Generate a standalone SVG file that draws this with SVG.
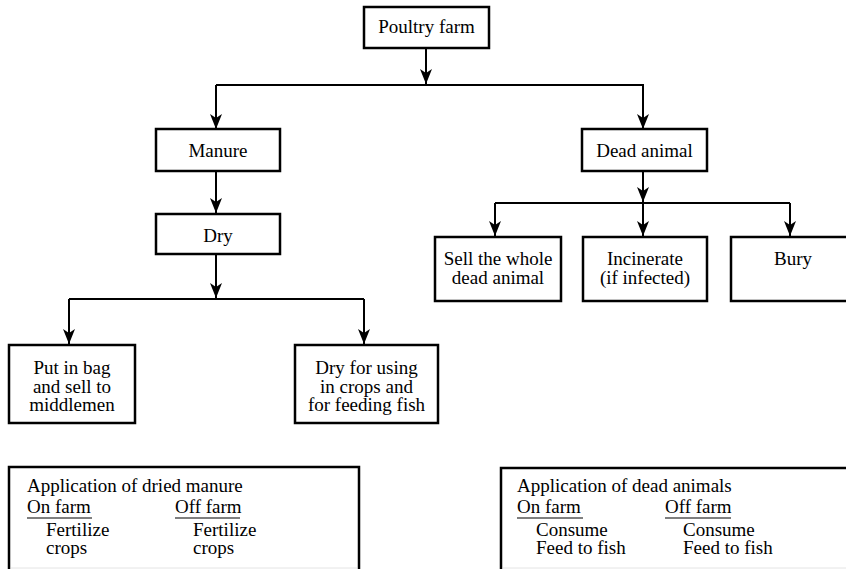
<svg xmlns="http://www.w3.org/2000/svg" width="846" height="569" viewBox="0 0 846 569">
<style>
.box{fill:#fff;stroke:#000;stroke-width:2.5}
text{font-family:'Liberation Serif',Tinos,'Times New Roman',Times,'DejaVu Serif','Noto Serif',serif;font-size:19px;fill:#000}
.c{text-anchor:middle}
.con{fill:none;stroke:#000;stroke-width:2}
.ul{stroke:#000;stroke-width:1.2}
.edge{stroke:#e4e4e4;stroke-width:1}
</style>
<defs>
<marker id="ah" markerUnits="userSpaceOnUse" markerWidth="20" markerHeight="16" viewBox="-16 -8 20 16" refX="0" refY="0" orient="auto">
<path d="M0,0 L-15,-6 L-11,0 L-15,6 z" fill="#000"/>
</marker>
</defs>
<g id="connectors">
<path class="con" d="M426,48 V84" marker-end="url(#ah)"/>
<path class="con" d="M216,85 H643 V129" marker-end="url(#ah)"/>
<path class="con" d="M216,85 V129" marker-end="url(#ah)"/>
<path class="con" d="M216,171 V213" marker-end="url(#ah)"/>
<path class="con" d="M216,254 V298" marker-end="url(#ah)"/>
<path class="con" d="M69,299 H364"/>
<path class="con" d="M69,299 V344" marker-end="url(#ah)"/>
<path class="con" d="M364,299 V344" marker-end="url(#ah)"/>
<path class="con" d="M643,171 V202" marker-end="url(#ah)"/>
<path class="con" d="M495,203 H790"/>
<path class="con" d="M495,203 V236" marker-end="url(#ah)"/>
<path class="con" d="M643,203 V236" marker-end="url(#ah)"/>
<path class="con" d="M790,203 V236" marker-end="url(#ah)"/>
</g>
<g id="poultry">
<rect class="box" x="364" y="7" width="125" height="41"/>
<text class="c" x="426.5" y="33">Poultry farm</text>
</g>
<g id="manure">
<rect class="box" x="156" y="129" width="124" height="42"/>
<text class="c" x="218" y="157">Manure</text>
</g>
<g id="dead">
<rect class="box" x="582" y="129" width="125" height="42"/>
<text class="c" x="644.5" y="157">Dead animal</text>
</g>
<g id="dry">
<rect class="box" x="156" y="214" width="124" height="40"/>
<text class="c" x="218" y="242">Dry</text>
</g>
<g id="bag">
<rect class="box" x="9" y="345" width="126" height="78"/>
<text class="c" x="72" y="374">Put in bag</text>
<text class="c" x="72" y="392.5">and sell to</text>
<text class="c" x="72" y="411">middlemen</text>
</g>
<g id="dryuse">
<rect class="box" x="295" y="345" width="143" height="78"/>
<text class="c" x="366.5" y="374">Dry for using</text>
<text class="c" x="366.5" y="392.5">in crops and</text>
<text class="c" x="366.5" y="411">for feeding fish</text>
</g>
<g id="sell">
<rect class="box" x="435" y="237" width="126" height="64"/>
<text class="c" x="498" y="265">Sell the whole</text>
<text class="c" x="498" y="284">dead animal</text>
</g>
<g id="incinerate">
<rect class="box" x="583" y="237" width="124" height="64"/>
<text class="c" x="645" y="265">Incinerate</text>
<text class="c" x="645" y="284">(if infected)</text>
</g>
<g id="bury">
<rect class="box" x="731" y="237" width="125" height="64"/>
<text class="c" x="793" y="265">Bury</text>
</g>
<g id="app-manure">
<rect class="box" x="9" y="467" width="350" height="110"/>
<line class="edge" x1="11" y1="568" x2="357" y2="568"/>
<text x="27" y="492">Application of dried manure</text>
<text x="27" y="513">On farm</text>
<line class="ul" x1="27" y1="518" x2="92" y2="518"/>
<text x="175" y="513">Off farm</text>
<line class="ul" x1="175" y1="518" x2="240" y2="518"/>
<text x="46" y="536">Fertilize</text>
<text x="46" y="554">crops</text>
<text x="193" y="536">Fertilize</text>
<text x="193" y="554">crops</text>
</g>
<g id="app-dead">
<rect class="box" x="501" y="468" width="360" height="110"/>
<line class="edge" x1="503" y1="568" x2="846" y2="568"/>
<text x="517" y="492">Application of dead animals</text>
<text x="517" y="513">On farm</text>
<line class="ul" x1="517" y1="518" x2="583" y2="518"/>
<text x="665" y="513">Off farm</text>
<line class="ul" x1="665" y1="518" x2="731" y2="518"/>
<text x="536" y="536">Consume</text>
<text x="536" y="554">Feed to fish</text>
<text x="683" y="536">Consume</text>
<text x="683" y="554">Feed to fish</text>
</g>
</svg>
